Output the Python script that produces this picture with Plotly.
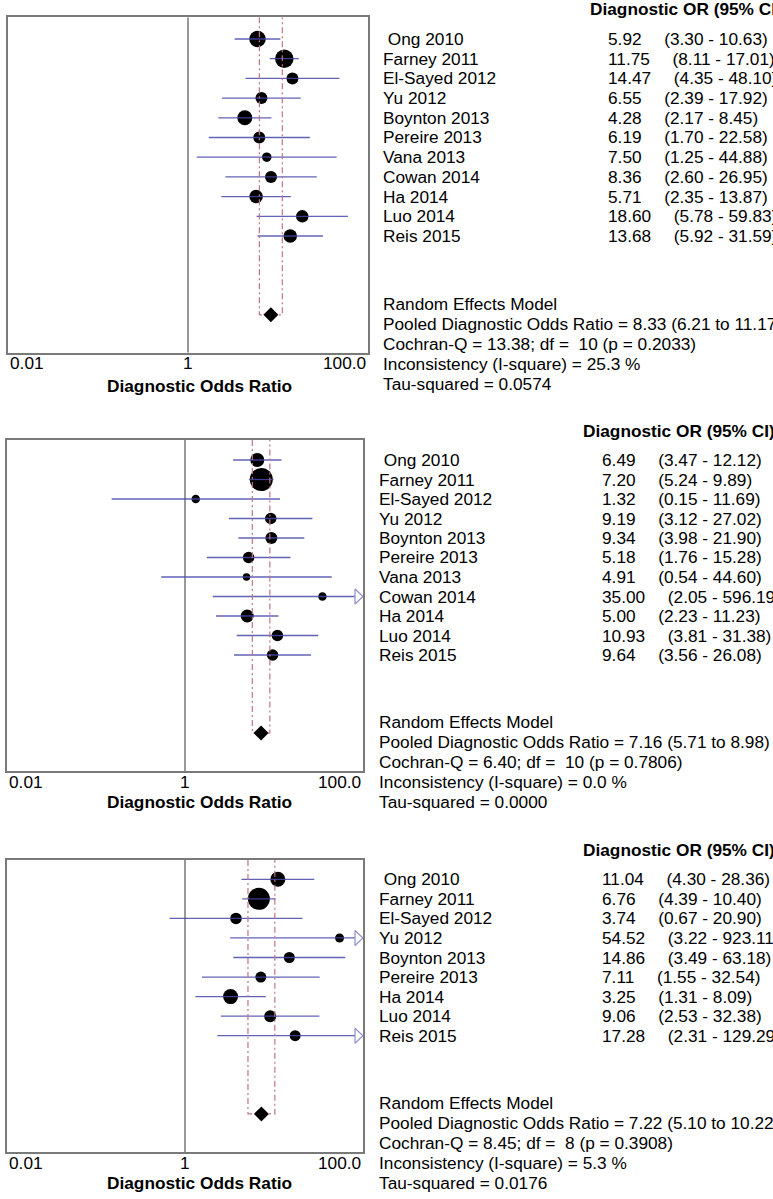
import math
import plotly.graph_objects as go

# ---------------- data ----------------
studies_a = [" Ong 2010", "Farney 2011", "El-Sayed 2012", "Yu 2012", "Boynton 2013", "Pereire 2013",
             "Vana 2013", "Cowan 2014", "Ha 2014", "Luo 2014", "Reis 2015"]
studies_c = [" Ong 2010", "Farney 2011", "El-Sayed 2012", "Yu 2012", "Boynton 2013", "Pereire 2013",
             "Ha 2014", "Luo 2014", "Reis 2015"]

p1_or = [5.92, 11.75, 14.47, 6.55, 4.28, 6.19, 7.50, 8.36, 5.71, 18.60, 13.68]
p1_lo = [3.30, 8.11, 4.35, 2.39, 2.17, 1.70, 1.25, 2.60, 2.35, 5.78, 5.92]
p1_hi = [10.63, 17.01, 48.10, 17.92, 8.45, 22.58, 44.88, 26.95, 13.87, 59.83, 31.59]
p1_wt = [16.5, 18.5, 12, 12, 15, 12, 9.5, 12, 13.5, 12.5, 13.5]
p1_pooled = [8.33, 6.21, 11.17]
p1_stats = ["Random Effects Model",
            "Pooled Diagnostic Odds Ratio = 8.33 (6.21 to 11.17)",
            "Cochran-Q = 13.38; df =  10 (p = 0.2033)",
            "Inconsistency (I-square) = 25.3 %",
            "Tau-squared = 0.0574"]

p2_or = [6.49, 7.20, 1.32, 9.19, 9.34, 5.18, 4.91, 35.00, 5.00, 10.93, 9.64]
p2_lo = [3.47, 5.24, 0.15, 3.12, 3.98, 1.76, 0.54, 2.05, 2.23, 3.81, 3.56]
p2_hi = [12.12, 9.89, 11.69, 27.02, 21.90, 15.28, 44.60, 596.19, 11.23, 31.38, 26.08]
p2_wt = [14, 23, 8.5, 11.5, 12, 11.5, 7.5, 8.5, 13, 11.5, 11.5]
p2_pooled = [7.16, 5.71, 8.98]
p2_stats = ["Random Effects Model",
            "Pooled Diagnostic Odds Ratio = 7.16 (5.71 to 8.98)",
            "Cochran-Q = 6.40; df =  10 (p = 0.7806)",
            "Inconsistency (I-square) = 0.0 %",
            "Tau-squared = 0.0000"]

p3_or = [11.04, 6.76, 3.74, 54.52, 14.86, 7.11, 3.25, 9.06, 17.28]
p3_lo = [4.30, 4.39, 0.67, 3.22, 3.49, 1.55, 1.31, 2.53, 2.31]
p3_hi = [28.36, 10.40, 20.90, 923.11, 63.18, 32.54, 8.09, 32.38, 129.29]
p3_wt = [15, 22, 11.5, 9, 11, 11, 15, 12, 11]
p3_pooled = [7.22, 5.10, 10.22]
p3_stats = ["Random Effects Model",
            "Pooled Diagnostic Odds Ratio = 7.22 (5.10 to 10.22)",
            "Cochran-Q = 8.45; df =  8 (p = 0.3908)",
            "Inconsistency (I-square) = 5.3 %",
            "Tau-squared = 0.0176"]

tick_vals = [0.01, 1, 100]
tick_text = ["0.01", "1", "100.0"]
axis_title = "Diagnostic Odds Ratio"
col_header = "Diagnostic OR (95% CI)"

# ---------------- layout geometry (pixels) ----------------
W, H = 773, 1199
FONT = "Liberation Sans, Arial, sans-serif"
FS = 17.25
geo = [
    dict(x0=8, x1=368, ytop=17.3, ybot=352.7, row0=39, step=19.7, name_x=381, val_x=606, head_x=588,
         tick_y=363, title_y=386, title_x=199),
    dict(x0=7, x1=363, ytop=440, ybot=771, row0=460, step=19.5, name_x=377, val_x=600, head_x=581,
         tick_y=781.7, title_y=801.7, title_x=199),
    dict(x0=7, x1=363, ytop=860, ybot=1152, row0=879.3, step=19.55, name_x=377, val_x=600, head_x=581,
         tick_y=1163, title_y=1182.7, title_x=199),
]
panels = [
    (studies_a, p1_or, p1_lo, p1_hi, p1_wt, p1_pooled, p1_stats),
    (studies_a, p2_or, p2_lo, p2_hi, p2_wt, p2_pooled, p2_stats),
    (studies_c, p3_or, p3_lo, p3_hi, p3_wt, p3_pooled, p3_stats),
]

CI_COLOR = "rgba(70,70,170,0.85)"
DASH_COLOR = "#c07585"
ARROW_COLOR = "#8f8fd0"
NB = "\u00a0"

fig = go.Figure()
annotations = []
layout_axes = {}

for i, (g, (names, ors, los, his, wts, pooled, stats)) in enumerate(zip(geo, panels)):
    sfx = "" if i == 0 else str(i + 1)
    xa, ya = "x" + sfx, "y" + sfx
    k_top = (g["ytop"] - g["row0"]) / g["step"]
    k_bot = (g["ybot"] - g["row0"]) / g["step"]
    n = len(names)
    ks = list(range(n))
    k_pool = n + 3
    ppd = (g["x1"] - g["x0"]) / 4.0  # pixels per decade

    def row_paper(k, g=g):
        return 1 - (g["row0"] + k * g["step"]) / H

    layout_axes["xaxis" + sfx] = dict(
        type="log", range=[-2, 2], domain=[g["x0"] / W, g["x1"] / W], anchor=ya,
        showgrid=False, zeroline=False, showticklabels=False, ticks="",
        showline=True, mirror=True, linecolor="#7a7a7a", linewidth=1.5, fixedrange=True)
    layout_axes["yaxis" + sfx] = dict(
        range=[k_bot, k_top], domain=[1 - g["ybot"] / H, 1 - g["ytop"] / H], anchor=xa,
        showgrid=False, zeroline=False, showticklabels=False, ticks="",
        showline=True, mirror=True, linecolor="#7a7a7a", linewidth=1.5, fixedrange=True)

    # reference line at OR = 1
    fig.add_trace(go.Scatter(x=[1, 1], y=[k_top, k_bot], mode="lines", xaxis=xa, yaxis=ya,
                             line=dict(color="#555555", width=1.2), hoverinfo="skip"))
    # study points
    fig.add_trace(go.Scatter(x=ors, y=ks, mode="markers", xaxis=xa, yaxis=ya,
                             marker=dict(color="black", size=wts, opacity=1, line=dict(width=0)),
                             hoverinfo="skip"))
    # CI lines
    cx, cy = [], []
    for k, lo, hi in zip(ks, los, his):
        cx += [lo, min(hi, 100), None]
        cy += [k, k, None]
    fig.add_trace(go.Scatter(x=cx, y=cy, mode="lines", xaxis=xa, yaxis=ya,
                             line=dict(color=CI_COLOR, width=1.3), hoverinfo="skip"))
    # arrows for truncated upper limits
    for k, hi in zip(ks, his):
        if hi > 100:
            back = 10 ** (2 - 8.0 / ppd)
            hh = 7.5 / g["step"]
            fig.add_trace(go.Scatter(x=[100, back, back, 100], y=[k, k - hh, k + hh, k],
                                     mode="lines", fill="toself", fillcolor="white",
                                     xaxis=xa, yaxis=ya, line=dict(color=ARROW_COLOR, width=1.2),
                                     hoverinfo="skip"))
    # pooled CI bracket
    est, plo, phi = pooled
    fig.add_trace(go.Scatter(x=[plo, plo, phi, phi], y=[k_top, k_pool, k_pool, k_top],
                             mode="lines", xaxis=xa, yaxis=ya,
                             line=dict(color=DASH_COLOR, width=1.2, dash="6px,3px,2px,3px"),
                             hoverinfo="skip"))
    # pooled diamond
    fig.add_trace(go.Scatter(x=[est], y=[k_pool], mode="markers", xaxis=xa, yaxis=ya,
                             marker=dict(symbol="diamond", color="black", size=11.5, opacity=1,
                                         line=dict(width=0)),
                             hoverinfo="skip"))

    font = dict(family=FONT, size=FS, color="black")
    # column header
    annotations.append(dict(text="<b>" + col_header + "</b>", xref="paper", yref="paper",
                            x=g["head_x"] / W, y=row_paper(-1.5), xanchor="left", yanchor="middle",
                            showarrow=False, font=font))
    # study names and values
    for k, nm, o, lo, hi in zip(ks, names, ors, los, his):
        annotations.append(dict(text=nm.replace(" ", NB), xref="paper", yref="paper",
                                x=g["name_x"] / W, y=row_paper(k), xanchor="left", yanchor="middle",
                                showarrow=False, font=font))
        txt = f"{o:.2f}" + NB * 4 + "\u2009" + f"({lo:.2f} - {hi:.2f})".replace(" ", NB)
        annotations.append(dict(text=txt, xref="paper", yref="paper",
                                x=g["val_x"] / W, y=row_paper(k), xanchor="left", yanchor="middle",
                                showarrow=False, font=font))
    # summary statistics
    for j, s in enumerate(stats):
        annotations.append(dict(text=s.replace(" ", NB), xref="paper", yref="paper",
                                x=g["name_x"] / W, y=1 - (g["row0"] + (k_pool - 0.55) * g["step"] + j * 20) / H,
                                xanchor="left", yanchor="middle", showarrow=False, font=font))
    # tick labels
    anchors = ["left", "center", "right"]
    for tv, tt, an in zip(tick_vals, tick_text, anchors):
        annotations.append(dict(text=tt, xref=xa, yref="paper", x=math.log10(tv),
                                y=1 - g["tick_y"] / H, xanchor=an, yanchor="middle",
                                showarrow=False, font=font))
    # axis title
    annotations.append(dict(text="<b>" + axis_title + "</b>", xref="paper", yref="paper",
                            x=g["title_x"] / W, y=1 - g["title_y"] / H, xanchor="center",
                            yanchor="middle", showarrow=False, font=font))

fig.update_layout(
    width=W, height=H, margin=dict(l=0, r=0, t=0, b=0),
    paper_bgcolor="white", plot_bgcolor="white", showlegend=False,
    annotations=annotations, **layout_axes)

fig.write_html("out.html", config={"displayModeBar": False},
               post_script="document.body.style.margin='0';document.body.style.overflow='hidden';")
